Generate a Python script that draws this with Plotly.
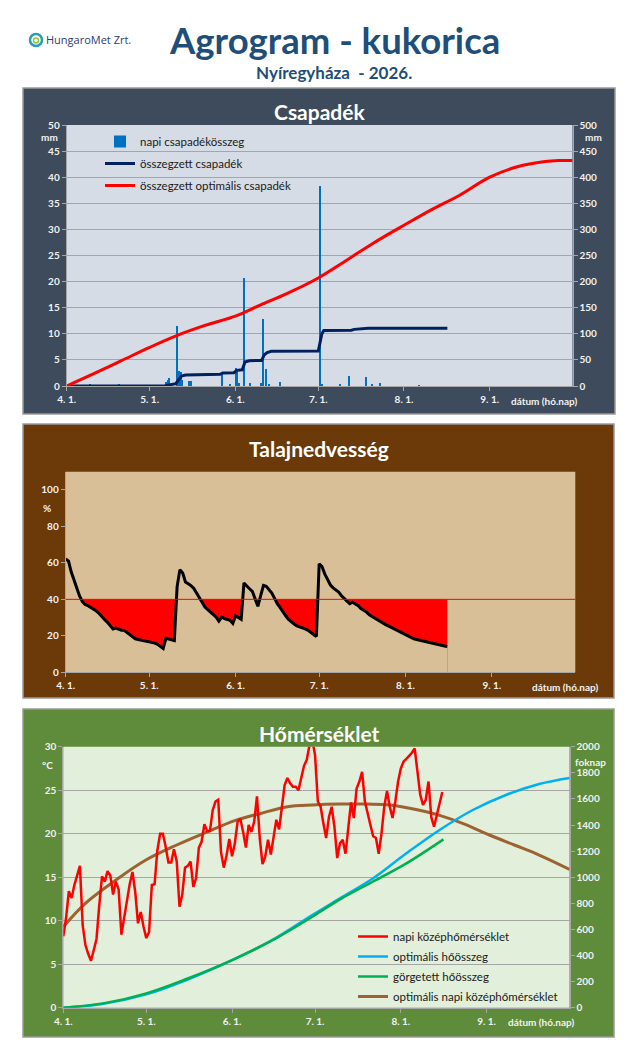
import pandas as pd
import plotly.graph_objects as go

W, H = 640, 1059
start = pd.Timestamp('2026-04-01')
end = pd.Timestamp('2026-09-30 23:00')

# napi csapadék (nap a 04.01-től, mm)
rain_day = [8.4, 19, 35.8, 36.4, 37, 40, 40.7, 41.2, 41.8, 44, 45, 56, 59, 61.2, 61.6, 62.2,
            64.1, 66.2, 70.2, 71, 72, 73, 77.1, 91.4, 92.2, 98.8, 102.1, 108.1, 110.2, 113.2, 127.3]
rain_mm = [0.3, 0.3, 0.8, 1.2, 1.5, 11.5, 2.9, 2.7, 1.1, 1.0, 1.0, 2.7, 0.4, 3.4, 3.0, 0.5,
           20.6, 0.6, 0.6, 12.8, 3.2, 0.3, 0.8, 38.4, 0.2, 0.2, 1.9, 1.8, 0.4, 0.5, 0.1]

# összegzett csapadék (mm)
cum_day = [0, 35.5, 36.5, 38, 39.5, 40.5, 41.5, 43, 55.5, 56.5, 60.5, 61.5, 63.5, 64.5, 66,
           70.5, 71.5, 72.5, 74, 91, 92.3, 93, 103, 104, 108, 109, 137.7]
cum_mm = [0, 0, 1.5, 3.5, 4.5, 12, 19, 21, 22.3, 25, 25.5, 30, 31, 46, 48.4,
          49, 60, 64, 66.5, 67, 100, 106.5, 107, 108.5, 109, 110.5, 110.5]

# összegzett optimális csapadék (mm)
opt_day = [0, 10, 20, 30, 40, 50, 61, 70, 80, 91, 101, 111, 122, 132, 142, 153, 163, 173, 178, 183]
opt_mm = [0, 24, 49, 74, 97, 116, 134, 155, 178, 207, 240, 274, 308, 338, 365, 400, 420, 430, 432, 432]

# talajnedvesség (%), naponta 04.01-től
soil = [62.2, 61, 55, 50.5, 46, 41.7, 38.8, 37.2, 36.5, 35.6,
        34.7, 33.6, 32.3, 30.3, 28.8, 27.4, 25.8, 23.7, 24.3, 23.5,
        23.1, 23, 21.8, 20.6, 19.5, 18.4, 18, 17.7, 17.5, 17.2,
        16.6, 16.3, 16, 15.3, 14.3, 13, 18.7, 18.2, 17.8, 17.4,
        47, 56.3, 54.5, 49.5, 48.5, 47.5, 46, 43.5, 40.5, 38,
        35.8, 34.3, 32.8, 31.5, 30.3, 28.1, 30.3, 29.5, 28.8, 28.5,
        26.8, 31, 30, 29, 49, 47.2, 45.8, 44.4, 40.7, 36.2,
        42, 47.7, 47.2, 45.5, 43.5, 40.5, 37.5, 35.5, 33, 31,
        29, 27.5, 26.5, 25.5, 25, 24.6, 23.8, 23, 21.8, 20.6,
        19.6, 59.5, 58, 54, 50.5, 48, 46.3, 45, 44, 42,
        40.2, 39, 37.6, 38.4, 37.5, 36.5, 35, 34, 33, 31.5,
        30.5, 29.5, 28.7, 28, 27, 26, 25.3, 24.5, 24, 23.2,
        22.3, 21.5, 20.6, 20, 19, 18.4, 18, 17.6, 17.4, 17,
        16.5, 16.3, 16, 15.5, 15, 14.8, 14.4, 14.1]
soil_limit = 40

# napi középhőmérséklet (°C), naponta 04.01-től
temp = [8.2, 10.3, 13.4, 12.6, 14.1, 15.2, 16.3, 9.5, 7.2, 6.2,
        5.4, 6.6, 7.9, 11.8, 15.1, 14.5, 15.7, 15.2, 13, 14.5,
        13.6, 8.4, 10.3, 12.6, 14.2, 15.6, 13.3, 9.7, 11, 9.3,
        8, 8.7, 14.1, 14.2, 18.1, 20, 20, 18.5, 16.7, 16.7,
        18.2, 16.8, 11.6, 13, 16.1, 16.3, 16.8, 13.9, 14.9, 18.4,
        19.1, 21.1, 20.3, 20.3, 22.7, 23.7, 23.9, 17.9, 16.1, 17.5,
        19.4, 17.4, 18.9, 21.4, 21.7, 20.2, 18.4, 21, 20.2, 21.4,
        24.3, 19.5, 16.5, 17.4, 19.3, 17.6, 19.5, 21.6, 20.5, 22.9,
        25.6, 26.4, 25.8, 25.4, 25.4, 25, 26.6, 27.8, 28.5, 30.2,
        30.8, 29, 23.7, 23.1, 21.2, 19.5, 21.9, 23.1, 20.8, 17.2,
        18.9, 19.3, 17.7, 20.4, 23.6, 21.8, 25.2, 26, 27.1, 23.7,
        22.2, 21, 19.7, 19.5, 17.7, 20, 23.1, 24.9, 23.1, 21.8,
        23.7, 26, 27.5, 28.3, 28.6, 28.9, 29.3, 29.8, 27.1, 24.5,
        23.3, 23.9, 26, 21.9, 20.8, 22.1, 23.7, 24.8]

# optimális napi középhőmérséklet (°C)
topt_day = [0, 8, 20, 30, 41, 52, 62, 71, 81, 90, 100, 110, 118, 127, 136, 145, 154, 163, 172, 183]
topt = [9.3, 12, 14.9, 17, 18.7, 20.2, 21.5, 22.3, 23.1, 23.3, 23.4, 23.4, 23.3, 22.8, 22.1,
        21.1, 19.85, 18.7, 17.55, 15.9]

# optimális hőösszeg (foknap)
hs_opt_day = [0, 14, 30, 44.5, 61, 76, 90, 100, 112, 124, 136, 148, 160, 172, 183]
hs_opt = [0, 28, 102, 212, 365, 524, 710, 838, 992, 1183, 1362, 1515, 1630, 1714, 1760]

# görgetett hőösszeg (foknap)
hs_day = [0, 14.4, 30, 44.5, 61, 75.8, 90, 100, 112, 124, 137.4]
hs = [0, 33, 110, 220, 365, 519, 697, 830, 967, 1106, 1290]


def dates(days):
    return start + pd.to_timedelta(days, unit='D')


def px(x):
    return x / W


def py(y):
    return 1 - y / H


FONT = 'Lato'
tickfont = dict(family=FONT, size=10, color='#F2F2F2', weight='bold')

fig = go.Figure()

# --- Csapadék ---
fig.add_trace(go.Bar(x=dates(rain_day), y=rain_mm, width=0.45 * 86400000,
                     marker=dict(color='#0070C0', line_width=0),
                     name='napi csapadékösszeg', xaxis='x', yaxis='y',
                     legend='legend', legendgroup='a'))
fig.add_trace(go.Scatter(x=dates(cum_day), y=cum_mm, mode='lines',
                         line=dict(color='#002060', width=3),
                         name='összegzett csapadék', xaxis='x', yaxis='y2',
                         legend='legend', legendgroup='b'))
fig.add_trace(go.Scatter(x=dates(opt_day), y=opt_mm, mode='lines', line_shape='spline',
                         line=dict(color='#FF0000', width=3),
                         name='összegzett optimális csapadék', xaxis='x', yaxis='y2',
                         legend='legend', legendgroup='c'))

# --- Talajnedvesség ---
soil_x = dates(list(range(len(soil))))
fig.add_trace(go.Scatter(x=soil_x, y=[soil_limit] * len(soil), mode='lines',
                         line=dict(width=0), fill='tozeroy', fillcolor='#FF0000',
                         showlegend=False, hoverinfo='skip', xaxis='x2', yaxis='y3'))
fig.add_trace(go.Scatter(x=soil_x, y=soil, mode='lines', line=dict(width=0),
                         fill='tozeroy', fillcolor='#D9BF98',
                         showlegend=False, hoverinfo='skip', xaxis='x2', yaxis='y3'))
fig.add_trace(go.Scatter(x=soil_x, y=soil, mode='lines',
                         line=dict(color='#000000', width=3),
                         showlegend=False, xaxis='x2', yaxis='y3'))

# --- Hőmérséklet ---
fig.add_trace(go.Scatter(x=dates(topt_day), y=topt, mode='lines', line_shape='spline',
                         line=dict(color='#9C6230', width=3),
                         name='optimális napi középhőmérséklet', xaxis='x3', yaxis='y4',
                         legend='legend2', legendrank=4, legendgroup='g4'))
fig.add_trace(go.Scatter(x=dates(list(range(len(temp)))), y=temp, mode='lines',
                         line=dict(color='#FF0000', width=2.5),
                         name='napi középhőmérséklet', xaxis='x3', yaxis='y4',
                         legend='legend2', legendrank=1, legendgroup='g1'))
fig.add_trace(go.Scatter(x=dates(hs_opt_day), y=hs_opt, mode='lines', line_shape='spline',
                         line=dict(color='#00B0F0', width=2.5),
                         name='optimális hőösszeg', xaxis='x3', yaxis='y5',
                         legend='legend2', legendrank=2, legendgroup='g2'))
fig.add_trace(go.Scatter(x=dates(hs_day), y=hs, mode='lines', line_shape='spline',
                         line=dict(color='#00B050', width=2.5),
                         name='görgetett hőösszeg', xaxis='x3', yaxis='y5',
                         legend='legend2', legendrank=3, legendgroup='g3'))

xcommon = dict(type='date', range=[start, end], dtick='M1', tick0=start,
               tickformat='%-m. %-d.', ticks='outside', ticklen=4, tickcolor='#A6A6A6',
               showline=True, linecolor='#A6A6A6', linewidth=1, showgrid=False,
               zeroline=False, tickfont=tickfont, automargin=False)
ycommon = dict(ticks='outside', ticklen=4, tickcolor='#A6A6A6', showline=True,
               linecolor='#A6A6A6', zeroline=False, tickfont=tickfont, automargin=False)

fig.update_layout(
    width=W, height=H, margin=dict(l=0, r=0, t=0, b=0, autoexpand=False),
    paper_bgcolor='white', plot_bgcolor='rgba(0,0,0,0)',
    bargap=0,
    xaxis=dict(domain=[px(66.7), px(572.5)], anchor='y', **xcommon),
    yaxis=dict(domain=[py(386), py(125)], range=[0, 50], dtick=5, anchor='x',
               showgrid=True, gridcolor='#A6A6A6', **ycommon),
    yaxis2=dict(overlaying='y', side='right', anchor='x', range=[0, 500], dtick=50,
                showgrid=False, **ycommon),
    xaxis2=dict(domain=[px(65.7), px(575.3)], anchor='y3', **xcommon),
    yaxis3=dict(domain=[py(672.3), py(471.7)], range=[0, 110], tickvals=[0, 20, 40, 60, 80, 100],
                anchor='x2', showgrid=False, **ycommon),
    xaxis3=dict(domain=[px(63.3), px(569.5)], anchor='y4', **xcommon),
    yaxis4=dict(domain=[py(1007.7), py(746.7)], range=[0, 30], dtick=5, anchor='x3',
                showgrid=True, gridcolor='#A6A6A6', **ycommon),
    yaxis5=dict(overlaying='y4', side='right', anchor='x3', range=[0, 2000], dtick=200,
                showgrid=False, **ycommon),
    legend=dict(x=px(100), y=py(127), xanchor='left', yanchor='top',
                bgcolor='rgba(0,0,0,0)', tracegroupgap=3,
                font=dict(family=FONT, size=11.5, color='#1A1A1A')),
    legend2=dict(x=px(353), y=py(922), xanchor='left', yanchor='top',
                 bgcolor='rgba(0,0,0,0)', tracegroupgap=1,
                 font=dict(family=FONT, size=11.5, color='#1A1A1A')),
)

shapes = []
panels = [(23, 88, 615, 414, '#3D4B5C'), (23, 424, 614, 698, '#6B3A08'),
          (23, 709, 614, 1037, '#5E8C3A')]
for x0, y0, x1, y1, c in panels:
    shapes.append(dict(type='rect', xref='paper', yref='paper', x0=px(x0), x1=px(x1),
                       y0=py(y1), y1=py(y0), fillcolor=c, layer='below',
                       line=dict(color='#9A9A9A', width=1.5)))
for xr, yr, c in [('x', 'y', '#D6DCE5'), ('x2', 'y3', '#D9BF98'), ('x3', 'y4', '#E2EFDA')]:
    shapes.append(dict(type='rect', xref=xr + ' domain', yref=yr + ' domain', x0=0, x1=1,
                       y0=0, y1=1, fillcolor=c, layer='below', line_width=0))
# 40% határvonal
shapes.append(dict(type='line', xref='x2 domain', yref='y3', x0=0, x1=1,
                   y0=soil_limit, y1=soil_limit, line=dict(color='#FF0000', width=1)))
# logo
shapes.append(dict(type='circle', xref='paper', yref='paper', x0=px(30), x1=px(42),
                   y0=py(46), y1=py(34), line=dict(color='#2A9DB5', width=2.5)))
shapes.append(dict(type='circle', xref='paper', yref='paper', x0=px(33.5), x1=px(38.5),
                   y0=py(43), y1=py(38), line=dict(color='#8DC63F', width=1.5)))
fig.update_layout(shapes=shapes)

ann = []


def text(x, y, s, size, color, bold=False, anchor='center', family=FONT):
    ann.append(dict(x=px(x), y=py(y), xref='paper', yref='paper', text=s, showarrow=False,
                    xanchor=anchor, yanchor='middle',
                    font=dict(family=family, size=size, color=color,
                              weight='bold' if bold else 'normal')))


text(334, 40, 'Agrogram - kukorica', 36.5, '#1F4E79', True)
text(334, 73, 'Nyíregyháza  - 2026.', 17, '#1F4E79', True)
text(44, 40, 'HungaroMet Zrt.', 11, '#2F3B73', anchor='left', family='Open Sans')
text(319, 112, 'Csapadék', 21, 'white', True)
text(319, 448, 'Talajnedvesség', 21, 'white', True)
text(319, 733, 'Hőmérséklet', 21, 'white', True)
text(49, 137, 'mm', 10, '#F2F2F2', True)
text(593, 137, 'mm', 10, '#F2F2F2', True)
text(47, 508, '%', 10, '#F2F2F2', True)
text(47, 765, '°C', 10, '#F2F2F2', True)
text(590, 762, 'foknap', 10, '#F2F2F2', True)
text(544, 401, 'dátum (hó.nap)', 10, '#F2F2F2', True)
text(565, 687, 'dátum (hó.nap)', 10, '#F2F2F2', True)
text(541, 1022, 'dátum (hó.nap)', 10, '#F2F2F2', True)
fig.update_layout(annotations=ann)

fig.write_html('out.html', config={'displayModeBar': False},
               post_script="document.body.style.margin='0px';")
